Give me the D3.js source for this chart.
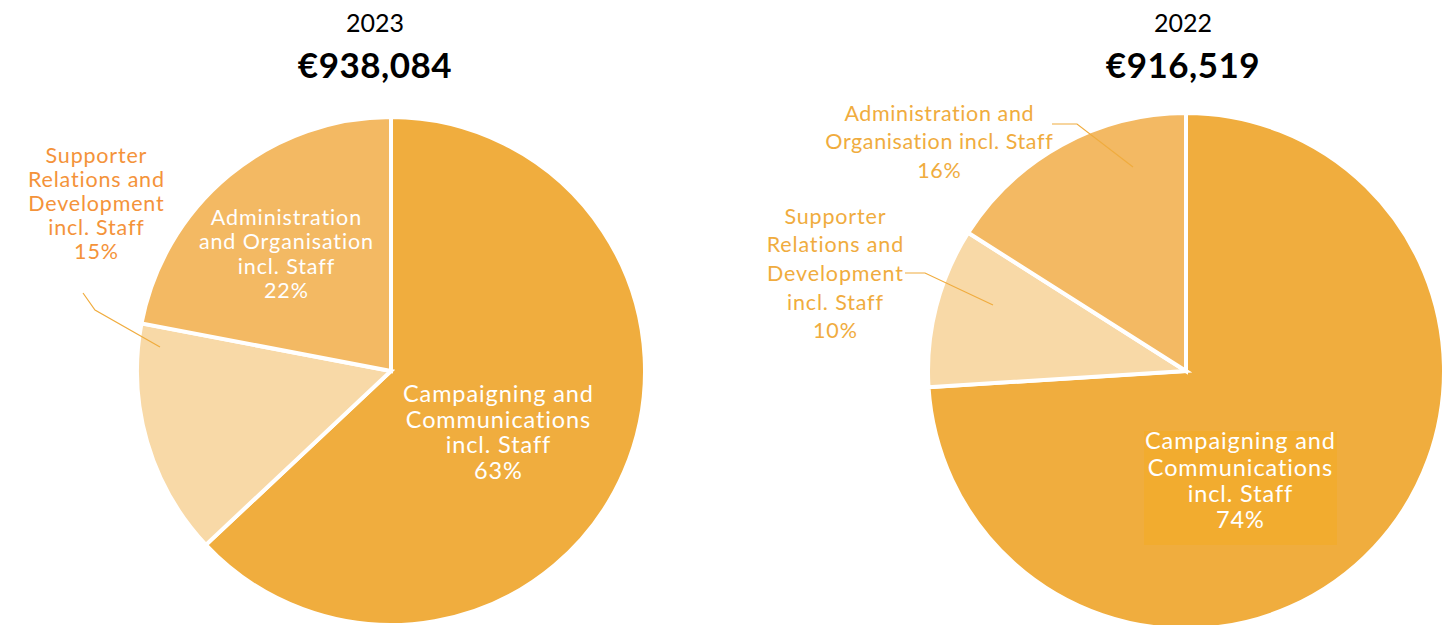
<!DOCTYPE html>
<html><head><meta charset="utf-8">
<script src="https://cdn.jsdelivr.net/npm/d3@7"></script>
<style>
html,body{margin:0;padding:0;background:#fff;}
svg{display:block;font-family:"Lato","Open Sans",sans-serif;}
</style></head>
<body><svg id="c" width="1455" height="625"></svg>
<script>
const categories = ["Campaigning and Communications incl. Staff",
                    "Supporter Relations and Development incl. Staff",
                    "Administration and Organisation incl. Staff"];
const values2023 = [63, 15, 22];
const values2022 = [74, 10, 16];
const years = ["2023", "2022"];
const totals = ["€938,084", "€916,519"];

// label line breaks per chart / category
const labelLines2023 = [
  ["Campaigning and","Communications","incl. Staff"],
  ["Supporter","Relations and","Development","incl. Staff"],
  ["Administration","and Organisation","incl. Staff"]
];
const labelLines2022 = [
  ["Campaigning and","Communications","incl. Staff"],
  ["Supporter","Relations and","Development","incl. Staff"],
  ["Administration and","Organisation incl. Staff"]
];

const colors = ["#F0AD3E", "#F8D9A7", "#F3B963"];
const svg = d3.select("#c");

const charts = [
  {values: values2023, lines: labelLines2023, cx: 391, cy: 371, r: 254, titleX: 375,
   labels: [
     {x: 498, y: 394, lh: 25.5, fs: 23.5, ls: 0.9, inside: true},
     {x: 96, y: 155, lh: 24, fs: 21.5, ls: 0.8, inside: false, color: "#F4933A",
      leader: [[83,293],[95,310],[160,347]]},
     {x: 286, y: 217, lh: 24.6, fs: 21.5, ls: 0.9, inside: true}
   ]},
  {values: values2022, lines: labelLines2022, cx: 1186, cy: 371, r: 258, titleX: 1183,
   labels: [
     {x: 1240, y: 441, lh: 26.3, fs: 23.5, ls: 0.9, inside: true, box: [1144, 431, 193, 114]},
     {x: 835, y: 216, lh: 28.7, fs: 21.5, ls: 0.85, inside: false, color: "#F0AC3E",
      leader: [[905,273],[925,273],[993,305]]},
     {x: 939, y: 113, lh: 28.5, fs: 21.5, ls: 0.6, inside: false, color: "#F0AC3E",
      leader: [[1052,124],[1077,124],[1133,167]]}
   ]}
];

charts.forEach((ch, ci) => {
  const g = svg.append("g");
  const pie = d3.pie().sort(null).value(d => d)(ch.values);
  const arc = d3.arc().innerRadius(0).outerRadius(ch.r);
  const pg = g.append("g").attr("transform", `translate(${ch.cx},${ch.cy})`);
  pg.selectAll("path").data(pie).join("path")
    .attr("d", arc)
    .attr("fill", (d,i) => colors[i])
    .attr("stroke", "#fff").attr("stroke-width", 4).attr("stroke-linejoin","miter");

  // titles
  g.append("text").attr("x", ch.titleX).attr("y", 32).attr("text-anchor","middle")
    .attr("font-size", 25).attr("fill","#000").text(years[ci]);
  g.append("text").attr("x", ch.titleX).attr("y", 78).attr("text-anchor","middle")
    .attr("font-size", 35).attr("font-weight","bold").attr("letter-spacing", 0.5)
    .attr("fill","#000").text(totals[ci]);

  ch.labels.forEach((lb, i) => {
    if (lb.box) {
      g.append("rect").attr("x", lb.box[0]).attr("y", lb.box[1])
        .attr("width", lb.box[2]).attr("height", lb.box[3]).attr("fill", "#F2AC2F");
    }
    if (lb.leader) {
      g.append("path").attr("d", d3.line()(lb.leader))
        .attr("fill","none").attr("stroke", "#F0AC3E").attr("stroke-width", 1.2);
    }
    const lines = ch.lines[i].concat([Math.round(ch.values[i]) + "%"]);
    const t = g.append("text").attr("text-anchor","middle")
      .attr("font-size", lb.fs).attr("letter-spacing", lb.ls)
      .attr("fill", lb.inside ? "#fff" : lb.color);
    lines.forEach((s, k) => {
      t.append("tspan").attr("x", lb.x + lb.ls / 2).attr("y", lb.y + k*lb.lh)
        .attr("dy", "0.35em").text(s);
    });
  });
});
</script></body></html>
